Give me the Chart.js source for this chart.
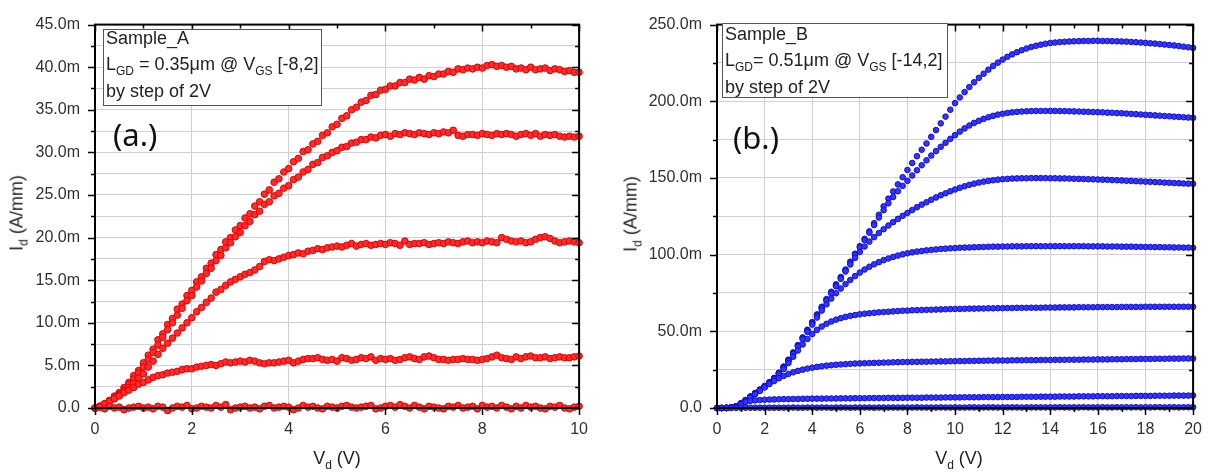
<!DOCTYPE html>
<html>
<head>
<meta charset="utf-8">
<script src="https://cdn.jsdelivr.net/npm/chart.js@4.4.0/dist/chart.umd.min.js"></script>
<style>
  body { margin: 0; background: #fff; }
  #wrap { position: relative; width: 1214px; height: 475px; font-family: 'Liberation Sans', Arial, sans-serif; color: #222; }
  canvas { position: absolute; top: 0; }
  .box { position: absolute; border: 1.5px solid #555; background: #fff; box-sizing: border-box; }
  .txt { position: absolute; font-size: 18px; line-height: 25.5px; white-space: nowrap; }
  .sub { font-size: 12px; position: relative; top: 5px; }
  .tag { position: absolute; font-family: 'Noto Sans', 'Open Sans', sans-serif; font-size: 31px; line-height: 30px; color: #111; }
  .ytitle { position: absolute; font-size: 18px; white-space: nowrap; transform: translate(-50%, -50%) rotate(-90deg); }
  .xtitle { position: absolute; font-size: 18px; white-space: nowrap; transform: translate(-50%, -50%); }
</style>
</head>
<body>
<div id="wrap">
  <canvas id="chartA" width="600" height="475" style="left:0"></canvas>
  <canvas id="chartB" width="614" height="475" style="left:600px"></canvas>

  <div class="box" style="left:103px;top:29px;width:219px;height:77px"></div>
  <div class="txt" style="left:106px;top:26px">Sample_A<br>L<span class="sub">GD</span> = 0.35μm @ V<span class="sub">GS</span> [-8,2]<br>by step of 2V</div>
  <div class="tag" style="left:113px;top:119px">(a.)</div>

  <div class="box" style="left:722px;top:23px;width:226px;height:75px"></div>
  <div class="txt" style="left:725px;top:22px">Sample_B<br>L<span class="sub">GD</span>= 0.51μm @ V<span class="sub">GS</span> [-14,2]<br>by step of 2V</div>
  <div class="tag" style="left:733px;top:122px">(b.)</div>

  <div class="ytitle" style="left:17px;top:213px">I<span class="sub">d</span> (A/mm)</div>
  <div class="ytitle" style="left:631px;top:214px">I<span class="sub">d</span> (A/mm)</div>
  <div class="xtitle" style="left:337px;top:458px">V<span class="sub">d</span> (V)</div>
  <div class="xtitle" style="left:959px;top:458px">V<span class="sub">d</span> (V)</div>
</div>

<script>
// ---- panel (a): Sample_A, Vd 0..10 V, Id in mA/mm ----
const xA = [0,0.1,0.2,0.3,0.4,0.5,0.6,0.7,0.8,0.9,1,1.1,1.2,1.3,1.4,1.5,1.6,1.7,1.8,1.9,2,2.1,2.2,2.3,2.4,2.5,2.6,2.7,2.8,2.9,3,3.1,3.2,3.3,3.4,3.5,3.6,3.7,3.8,3.9,4,4.1,4.2,4.3,4.4,4.5,4.6,4.7,4.8,4.9,5,5.1,5.2,5.3,5.4,5.5,5.6,5.7,5.8,5.9,6,6.1,6.2,6.3,6.4,6.5,6.6,6.7,6.8,6.9,7,7.1,7.2,7.3,7.4,7.5,7.6,7.7,7.8,7.9,8,8.1,8.2,8.3,8.4,8.5,8.6,8.7,8.8,8.9,9,9.1,9.2,9.3,9.4,9.5,9.6,9.7,9.8,9.9,10];

const a_vg2 = [0.0,0.2,0.5,0.9,1.4,1.8,2.4,3.0,3.8,4.4,
  5.3,6.2,6.9,8.0,8.7,9.8,10.5,11.6,12.2,13.2,
  13.8,14.8,15.4,16.4,17.0,18.0,18.6,19.5,20.0,20.9,
  21.4,22.3,22.8,23.7,24.2,25.1,25.6,26.5,26.9,27.7,
  28.1,28.9,29.3,30.1,30.3,31.0,31.3,32.0,32.3,33.0,
  33.3,34.0,34.3,35.0,35.3,35.9,36.1,36.7,36.8,37.3,
  37.4,37.8,37.8,38.2,38.2,38.6,38.5,38.8,38.6,39.0,
  38.9,39.2,39.2,39.5,39.4,39.8,39.7,39.9,39.8,40.0,
  39.9,40.2,40.3,40.1,40.2,40.0,40.1,39.8,39.9,39.7,
  40.0,39.7,39.8,39.9,39.6,39.8,39.7,39.5,39.6,39.4,
  39.4];
const a_vg0 = [0.0,0.1,0.4,0.8,1.2,1.6,2.1,2.8,3.4,4.1,
  4.8,5.7,6.5,7.4,8.3,9.2,10.0,10.9,11.7,12.6,
  13.2,14.2,14.9,15.8,16.4,17.3,17.9,18.8,19.4,20.1,
  20.6,21.4,21.9,22.7,23.1,23.9,24.2,24.9,25.2,25.8,
  26.1,26.8,27.1,27.7,28.0,28.6,28.8,29.4,29.6,30.0,
  30.2,30.6,30.7,31.1,31.2,31.5,31.5,31.8,31.7,32.0,
  32.1,31.9,32.2,32.1,32.3,32.2,32.1,32.3,32.2,32.1,
  32.3,32.2,32.4,32.3,32.6,32.0,31.9,32.1,32.1,32.0,
  32.2,32.1,32.0,32.2,32.1,32.2,32.1,31.9,32.1,32.2,
  32.0,32.2,31.9,32.1,32.0,32.1,31.9,31.8,31.9,31.8,
  31.9];
const a_vgm2 = [0.0,0.2,0.4,0.8,1.1,1.5,2.0,2.4,2.9,3.5,
  4.0,4.8,5.5,6.3,7.0,7.6,8.2,8.8,9.4,10.0,
  10.6,11.3,11.8,12.4,12.9,13.6,13.9,14.4,14.8,15.1,
  15.4,15.7,15.9,16.2,16.6,17.2,17.4,17.3,17.5,17.7,
  17.9,18.0,18.2,18.1,18.4,18.5,18.7,18.6,18.8,18.9,
  19.0,18.9,19.1,19.3,19.0,19.2,19.3,19.1,19.2,19.3,
  19.2,19.4,19.3,19.1,19.6,19.2,19.3,19.3,19.4,19.2,
  19.3,19.4,19.3,19.5,19.4,19.3,19.5,19.6,19.4,19.5,
  19.4,19.6,19.5,19.4,20.0,19.8,19.6,19.5,19.6,19.4,
  19.5,19.8,20.0,20.1,19.9,19.6,19.4,19.5,19.6,19.5,
  19.4];
const a_vgm4 = [0.0,0.2,0.5,0.8,1.1,1.4,1.8,2.1,2.4,2.8,
  3.0,3.3,3.6,3.8,3.9,4.1,4.2,4.3,4.5,4.6,
  4.6,4.8,4.9,5.0,5.1,5.0,5.2,5.4,5.3,5.4,
  5.5,5.4,5.6,5.5,5.3,5.2,5.3,5.3,5.4,5.5,
  5.6,5.3,5.5,5.7,5.8,5.8,5.9,5.7,5.6,5.7,
  5.5,5.9,5.8,5.6,5.7,5.9,5.8,6.0,5.6,5.8,
  5.7,5.8,5.6,5.7,5.9,6.0,5.8,5.7,6.0,6.1,
  5.9,5.7,5.7,5.6,5.7,5.7,5.8,5.7,5.7,5.6,
  5.7,5.8,6.0,6.2,5.9,5.8,5.7,6.0,5.8,6.0,
  6.1,5.9,5.9,6.0,5.8,5.9,6.0,5.9,5.9,6.0,
  6.1];
const a_vgm6 = [0.0,0.1,-0.1,0.2,0.0,0.1,-0.2,0.0,0.1,0.2,
  0.0,0.1,-0.1,0.2,0.1,-0.3,0.0,0.2,0.1,0.3,
  -0.1,0.0,0.2,0.1,0.0,0.3,0.1,0.4,-0.2,0.0,
  0.1,0.2,0.0,0.1,-0.1,0.2,0.3,0.0,0.1,0.2,
  0.1,-0.2,0.0,0.3,0.1,0.2,0.0,-0.1,0.2,0.1,
  0.0,0.2,0.3,0.1,0.0,0.1,0.2,0.3,-0.1,0.0,
  0.2,0.3,0.1,0.4,0.2,0.0,0.3,0.1,-0.1,0.2,
  0.1,0.0,-0.1,0.2,0.1,0.3,0.0,0.1,0.2,-0.1,
  0.3,0.1,0.2,0.0,0.3,0.1,-0.1,0.2,0.0,0.3,
  0.1,0.2,0.0,-0.1,0.2,0.1,0.3,0.0,-0.1,0.1,
  0.2];

// ---- panel (b): Sample_B, Vd 0..20 V, Id in mA/mm ----
const xB = [0,0.2,0.4,0.6,0.8,1,1.2,1.4,1.6,1.8,2,2.2,2.4,2.6,2.8,3,3.2,3.4,3.6,3.8,4,4.2,4.4,4.6,4.8,5,5.2,5.4,5.6,5.8,6,6.2,6.4,6.6,6.8,7,7.2,7.4,7.6,7.8,8,8.2,8.4,8.6,8.8,9,9.2,9.4,9.6,9.8,10,10.2,10.4,10.6,10.8,11,11.2,11.4,11.6,11.8,12,12.2,12.4,12.6,12.8,13,13.2,13.4,13.6,13.8,14,14.2,14.4,14.6,14.8,15,15.2,15.4,15.6,15.8,16,16.2,16.4,16.6,16.8,17,17.2,17.4,17.6,17.8,18,18.2,18.4,18.6,18.8,19,19.2,19.4,19.6,19.8,20];

const b_vg2 = [0.0,0.0,0.1,0.4,1.2,3.0,5.2,7.5,9.8,12.0,
  14.3,16.8,19.6,23.0,27.0,31.5,36.2,41.0,46.0,51.0,
  56.0,61.0,66.0,71.0,75.8,80.6,85.4,90.3,95.4,100.6,
  105.5,110.3,115.2,120.5,126.0,131.5,136.5,141.2,145.8,150.5,
  155.2,159.8,164.2,168.4,172.5,176.8,181.2,185.6,190.0,194.5,
  198.8,202.5,206.0,209.3,212.4,215.3,218.0,220.6,223.0,225.2,
  227.2,229.0,230.6,232.0,233.3,234.4,235.4,236.2,236.9,237.5,
  238.0,238.3,238.6,238.8,239.0,239.1,239.2,239.3,239.3,239.4,
  239.4,239.3,239.3,239.2,239.1,239.0,238.9,238.7,238.5,238.3,
  238.1,237.8,237.6,237.3,237.0,236.7,236.4,236.0,235.6,235.2,
  234.8];
const b_vg0 = [0.0,0.0,0.1,0.4,1.1,2.9,5.1,7.4,9.7,11.9,
  14.2,16.7,19.5,22.9,26.8,31.3,36.0,40.8,45.8,50.7,
  55.7,60.7,65.6,70.5,75.3,80.1,84.9,89.8,94.8,99.9,
  104.7,109.5,114.3,119.3,124.2,129.0,133.5,137.6,141.3,144.8,
  148.1,151.6,155.0,158.3,161.5,164.6,167.5,170.3,172.9,175.5,
  177.9,180.2,182.3,184.2,185.9,187.3,188.5,189.6,190.5,191.3,
  191.9,192.4,192.8,193.1,193.3,193.5,193.6,193.7,193.7,193.7,
  193.7,193.7,193.6,193.6,193.5,193.4,193.3,193.2,193.1,193.0,
  192.9,192.8,192.6,192.5,192.3,192.2,192.0,191.8,191.6,191.4,
  191.2,191.0,190.8,190.6,190.4,190.2,190.0,189.8,189.6,189.4,
  189.2];
const b_vgm2 = [0.0,0.0,0.1,0.4,1.1,2.9,5.0,7.3,9.6,11.8,
  14.1,16.6,19.4,22.7,26.6,31.0,35.7,40.5,45.4,50.3,
  55.2,60.1,65.0,69.8,74.6,79.4,84.2,89.0,93.6,97.9,
  101.8,105.3,108.5,111.4,114.1,116.6,119.0,121.2,123.3,125.3,
  127.2,129.1,130.9,132.6,134.2,135.8,137.3,138.7,140.0,141.3,
  142.5,143.6,144.6,145.5,146.3,147.0,147.6,148.1,148.5,148.9,
  149.2,149.4,149.6,149.7,149.8,149.8,149.9,149.9,149.9,149.9,
  149.8,149.8,149.7,149.7,149.6,149.5,149.4,149.3,149.2,149.1,
  149.0,148.9,148.8,148.6,148.5,148.4,148.2,148.1,147.9,147.8,
  147.6,147.5,147.3,147.2,147.0,146.9,146.7,146.6,146.4,146.3,
  146.2];
const b_vgm4 = [0.0,0.0,0.1,0.4,1.1,2.8,5.0,7.2,9.5,11.7,
  14.0,16.4,19.2,22.5,26.3,30.6,35.2,40.0,44.8,49.6,
  54.4,59.0,63.5,67.6,71.4,74.8,77.9,80.8,83.5,86.0,
  88.3,90.3,92.1,93.7,95.1,96.4,97.5,98.5,99.4,100.2,
  100.9,101.5,102.0,102.4,102.8,103.1,103.4,103.7,103.9,104.1,
  104.3,104.5,104.6,104.7,104.8,104.9,105.0,105.1,105.2,105.2,
  105.3,105.3,105.4,105.4,105.4,105.5,105.5,105.5,105.5,105.5,
  105.5,105.5,105.5,105.5,105.5,105.5,105.5,105.5,105.4,105.4,
  105.4,105.4,105.3,105.3,105.3,105.2,105.2,105.2,105.1,105.1,
  105.0,105.0,104.9,104.9,104.8,104.8,104.7,104.7,104.6,104.6,
  104.5];
const b_vgm6 = [0.0,0.0,0.1,0.4,1.0,2.7,4.8,7.0,9.2,11.4,
  13.7,16.1,18.8,21.9,25.4,29.3,33.4,37.5,41.4,45.0,
  48.2,50.9,53.1,54.9,56.4,57.6,58.6,59.4,60.1,60.6,
  61.1,61.5,61.8,62.1,62.4,62.6,62.8,63.0,63.2,63.4,
  63.5,63.7,63.8,63.9,64.0,64.1,64.2,64.3,64.4,64.5,
  64.6,64.6,64.7,64.8,64.8,64.9,64.9,65.0,65.0,65.1,
  65.1,65.2,65.2,65.3,65.3,65.3,65.4,65.4,65.4,65.5,
  65.5,65.5,65.6,65.6,65.6,65.6,65.7,65.7,65.7,65.7,
  65.8,65.8,65.8,65.8,65.8,65.9,65.9,65.9,65.9,65.9,
  66.0,66.0,66.0,66.0,66.0,66.0,66.0,66.0,66.0,66.0,
  66.0];
const b_vgm8 = [0.0,0.0,0.1,0.3,1.0,2.6,4.6,6.8,9.0,11.2,
  13.4,15.6,17.6,19.4,20.9,22.2,23.3,24.2,25.0,25.7,
  26.3,26.8,27.2,27.6,27.9,28.2,28.4,28.6,28.8,29.0,
  29.1,29.2,29.3,29.4,29.5,29.6,29.7,29.8,29.9,30.0,
  30.0,30.1,30.1,30.2,30.2,30.3,30.3,30.4,30.4,30.5,
  30.5,30.6,30.6,30.7,30.7,30.8,30.8,30.9,30.9,31.0,
  31.0,31.0,31.1,31.1,31.1,31.2,31.2,31.2,31.3,31.3,
  31.3,31.4,31.4,31.4,31.5,31.5,31.5,31.6,31.6,31.6,
  31.7,31.7,31.7,31.8,31.8,31.8,31.9,31.9,31.9,32.0,
  32.0,32.0,32.1,32.1,32.1,32.2,32.2,32.2,32.3,32.3,
  32.3];
const b_vgm10 = [0.0,0.0,0.1,0.3,0.9,2.3,3.8,4.6,5.0,5.2,
  5.4,5.5,5.6,5.7,5.8,5.8,5.9,5.9,6.0,6.0,
  6.1,6.1,6.1,6.2,6.2,6.2,6.3,6.3,6.3,6.4,
  6.4,6.4,6.5,6.5,6.5,6.5,6.6,6.6,6.6,6.6,
  6.7,6.7,6.7,6.7,6.8,6.8,6.8,6.8,6.9,6.9,
  6.9,6.9,7.0,7.0,7.0,7.0,7.1,7.1,7.1,7.1,
  7.2,7.2,7.2,7.2,7.3,7.3,7.3,7.3,7.4,7.4,
  7.4,7.4,7.5,7.5,7.5,7.5,7.6,7.6,7.6,7.6,
  7.7,7.7,7.7,7.7,7.8,7.8,7.8,7.8,7.9,7.9,
  7.9,7.9,8.0,8.0,8.0,8.0,8.1,8.1,8.1,8.1,
  8.2];
const b_vgm12 = [0.0,0.0,0.0,0.1,0.1,0.2,0.2,0.2,0.2,0.2,
  0.2,0.2,0.2,0.2,0.2,0.2,0.3,0.2,0.2,0.3,
  0.3,0.2,0.3,0.3,0.2,0.3,0.3,0.3,0.2,0.3,
  0.3,0.3,0.3,0.2,0.3,0.3,0.3,0.3,0.3,0.3,
  0.3,0.3,0.4,0.3,0.3,0.3,0.3,0.4,0.3,0.3,
  0.4,0.3,0.3,0.4,0.4,0.3,0.4,0.4,0.4,0.3,
  0.4,0.4,0.4,0.4,0.3,0.4,0.4,0.4,0.4,0.4,
  0.4,0.4,0.5,0.4,0.4,0.4,0.4,0.5,0.4,0.4,
  0.4,0.5,0.4,0.4,0.5,0.4,0.5,0.4,0.5,0.4,
  0.5,0.4,0.5,0.5,0.4,0.5,0.5,0.4,0.5,0.5,
  0.5];

const seriesA = [a_vgm6, a_vgm4, a_vgm2, a_vg0, a_vg2];
const seriesB = [b_vgm12, b_vgm10, b_vgm8, b_vgm6, b_vgm4, b_vgm2, b_vg0, b_vg2];

Chart.defaults.font.family = "'Liberation Sans', Arial, sans-serif";
Chart.defaults.color = '#303030';

// frame + tick marks (left/bottom out, top/right in), Origin style
const frameTicks = {
  id: 'frameTicks',
  afterDraw(chart, args, o) {
    const { ctx, chartArea: a, scales: { x, y } } = chart;
    const isMajor = (v, step) => Math.abs(v / step - Math.round(v / step)) < 1e-6;
    ctx.save();
    ctx.strokeStyle = '#000';
    ctx.lineWidth = 1.5;
    ctx.beginPath();
    for (let i = 0; i * o.xMinor <= x.max + 1e-9; i++) {
      const v = i * o.xMinor;
      const px = Math.round(x.getPixelForValue(v)) + 0.5;
      const len = isMajor(v, o.xMajor) ? 7 : 4;
      ctx.moveTo(px, a.top); ctx.lineTo(px, a.top + len);
      ctx.moveTo(px, a.bottom); ctx.lineTo(px, a.bottom + len);
    }
    for (let i = 0; i * o.yMinor <= y.max + 1e-9; i++) {
      const v = i * o.yMinor;
      const py = Math.round(y.getPixelForValue(v)) + 0.5;
      const len = isMajor(v, o.yMajor) ? 7 : 4;
      ctx.moveTo(a.left, py); ctx.lineTo(a.left - len, py);
      ctx.moveTo(a.right, py); ctx.lineTo(a.right - len, py);
    }
    ctx.stroke();
    ctx.lineWidth = 2;
    ctx.strokeRect(a.left, a.top, a.right - a.left, a.bottom - a.top);
    ctx.restore();
  }
};

function makeChart(id, xs, series, color, edge, radius, xMax, yMax, yStep, pad, yWidth) {
  new Chart(document.getElementById(id), {
    type: 'scatter',
    data: {
      datasets: series.map(ys => ({
        data: xs.map((x, i) => ({ x: x, y: ys[i] })),
        backgroundColor: color,
        borderColor: edge,
        borderWidth: 1,
        pointRadius: radius,
        pointHoverRadius: radius,
        clip: false
      }))
    },
    options: {
      responsive: false,
      animation: false,
      devicePixelRatio: 1,
      layout: { padding: pad },
      plugins: {
        legend: { display: false },
        tooltip: { enabled: false },
        frameTicks: { xMinor: 1, xMajor: 2, yMinor: yStep / 2, yMajor: yStep }
      },
      scales: {
        x: {
          type: 'linear',
          min: 0, max: xMax,
          border: { display: false },
          grid: { color: '#d0d0d0', lineWidth: 1, drawTicks: false },
          ticks: { stepSize: 2, padding: 12, font: { size: 16 } },
          afterFit: s => { s.height = 67; }
        },
        y: {
          min: 0, max: yMax,
          border: { display: false },
          grid: { color: '#d0d0d0', lineWidth: 1, drawTicks: false },
          ticks: {
            stepSize: yStep / 2,
            autoSkip: false,
            padding: 15,
            font: { size: 16 },
            callback: v => (Math.abs(v % yStep) < 1e-6) ? (v === 0 ? '0.0' : v.toFixed(1) + 'm') : ''
          },
          afterFit: s => { s.width = yWidth; }
        }
      }
    },
    plugins: [frameTicks]
  });
}

makeChart('chartA', xA, seriesA, '#ff2a2a', '#e00000', 3.3, 10, 45, 5,
  { top: 19, right: 20, left: 0, bottom: 0 }, 95);
makeChart('chartB', xB, seriesB, '#3434ff', '#1010d0', 2.8, 20, 250, 50,
  { top: 19, right: 12, left: 0, bottom: 0 }, 117);
</script>
</body>
</html>
